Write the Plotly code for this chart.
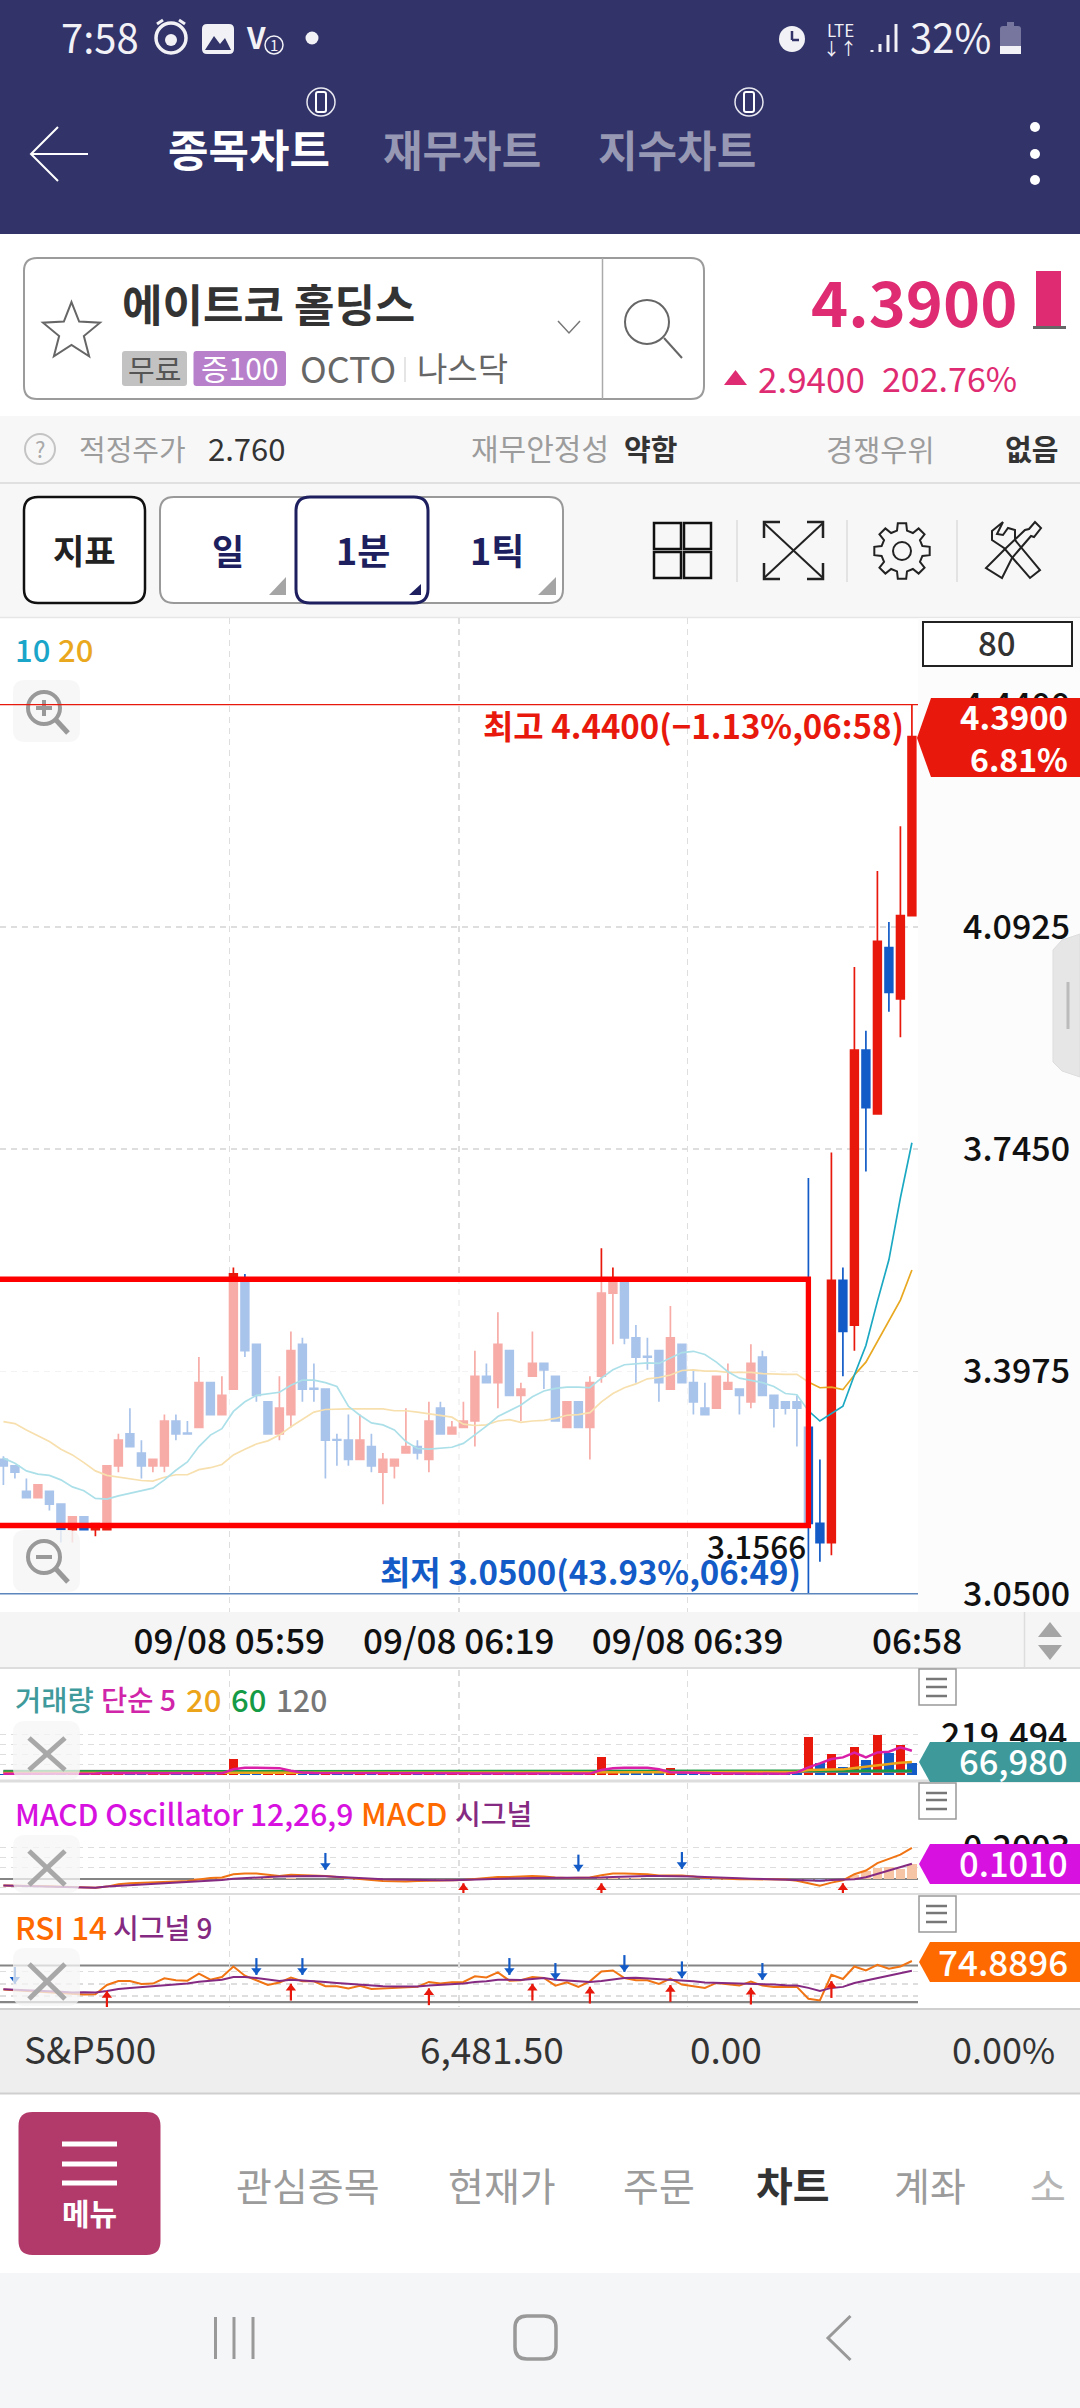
import math
import plotly.graph_objects as go

# ---------- DATA ----------
open_ = [3.26,3.25,3.21,3.20,3.21,3.19,3.15,3.17,3.15,3.15,
         3.25,3.30,3.27,3.25,3.25,3.32,3.301,3.31,3.38,3.33,
         3.37,3.54,3.44,3.35,3.30,3.33,3.44,3.371,3.37,3.291,
         3.29,3.26,3.28,3.24,3.25,3.27,3.28,3.26,3.34,3.30,
         3.31,3.32,3.39,3.38,3.43,3.36,3.39,3.41,3.39,3.31,
         3.35,3.31,3.39,3.52,3.54,3.45,3.421,3.43,3.37,3.44,
         3.38,3.34,3.34,3.37,3.37,3.35,3.42,3.36,3.35,3.35,
         3.31,3.16,3.13,3.54,3.47,3.90,3.80,4.06,3.98,4.11]
high = [3.265,3.25,3.23,3.22,3.21,3.19,3.17,3.17,3.16,3.25,
        3.30,3.34,3.29,3.26,3.33,3.33,3.32,3.42,3.38,3.39,
        3.56,3.55,3.44,3.35,3.39,3.46,3.45,3.41,3.37,3.30,
        3.33,3.33,3.30,3.27,3.26,3.34,3.29,3.35,3.35,3.32,
        3.35,3.43,3.41,3.49,3.43,3.38,3.46,3.41,3.39,3.35,
        3.35,3.39,3.59,3.56,3.54,3.47,3.45,3.43,3.50,3.44,
        3.40,3.38,3.39,3.41,3.37,3.44,3.43,3.36,3.35,3.36,
        3.70,3.26,3.74,3.56,4.03,3.93,4.18,4.10,4.25,4.44]
low = [3.22,3.23,3.20,3.20,3.18,3.13,3.13,3.15,3.14,3.15,
       3.24,3.28,3.23,3.24,3.24,3.29,3.30,3.31,3.33,3.33,
       3.37,3.42,3.35,3.30,3.29,3.31,3.35,3.35,3.23,3.25,
       3.25,3.26,3.24,3.19,3.23,3.27,3.26,3.24,3.30,3.30,
       3.31,3.28,3.38,3.34,3.36,3.32,3.39,3.37,3.32,3.31,
       3.31,3.26,3.38,3.44,3.44,3.38,3.40,3.35,3.37,3.38,
       3.33,3.33,3.34,3.37,3.33,3.34,3.36,3.31,3.33,3.28,
       3.05,3.10,3.11,3.39,3.43,3.71,3.80,3.96,3.92,4.11]
close = [3.25,3.24,3.20,3.22,3.19,3.15,3.17,3.15,3.16,3.25,
         3.29,3.28,3.25,3.26,3.32,3.30,3.30,3.38,3.33,3.36,
         3.55,3.43,3.36,3.30,3.34,3.43,3.37,3.37,3.29,3.29,
         3.26,3.29,3.25,3.26,3.26,3.28,3.27,3.32,3.30,3.31,
         3.32,3.39,3.38,3.44,3.36,3.37,3.41,3.40,3.32,3.35,
         3.31,3.38,3.52,3.54,3.45,3.42,3.42,3.38,3.45,3.38,
         3.35,3.33,3.39,3.38,3.36,3.41,3.36,3.34,3.34,3.34,
         3.16,3.13,3.54,3.46,3.90,3.81,4.07,3.99,4.11,4.39]
ma10 = [3.262,3.254,3.242,3.237,3.235,3.228,3.217,3.211,3.199,3.198,
        3.203,3.207,3.211,3.215,3.228,3.243,3.256,3.280,3.298,3.308,
        3.335,3.350,3.360,3.363,3.365,3.376,3.384,3.384,3.380,3.374,
        3.343,3.329,3.317,3.314,3.306,3.288,3.277,3.276,3.277,3.279,
        3.285,3.298,3.312,3.327,3.336,3.345,3.358,3.367,3.371,3.373,
        3.373,3.372,3.387,3.400,3.408,3.410,3.411,3.410,3.418,3.427,
        3.429,3.424,3.412,3.397,3.387,3.384,3.380,3.374,3.363,3.361,
        3.336,3.320,3.332,3.343,3.392,3.438,3.507,3.572,3.669,3.755]
ma20 = [3.319,3.316,3.306,3.297,3.288,3.276,3.267,3.255,3.242,3.235,
        3.232,3.229,3.227,3.226,3.232,3.236,3.236,3.244,3.247,3.252,
        3.267,3.276,3.284,3.289,3.298,3.311,3.323,3.334,3.338,3.339,
        3.339,3.339,3.339,3.339,3.336,3.336,3.334,3.331,3.329,3.326,
        3.315,3.313,3.314,3.320,3.322,3.318,3.320,3.321,3.324,3.329,
        3.330,3.333,3.350,3.363,3.372,3.378,3.386,3.388,3.392,3.399,
        3.400,3.398,3.398,3.396,3.396,3.396,3.394,3.393,3.393,3.393,
        3.381,3.372,3.373,3.369,3.392,3.412,3.444,3.475,3.509,3.556]
volume = [6000,5000,4000,5000,6000,9000,8000,6000,7000,16000,
          9000,8000,7000,6000,9000,7000,5000,10000,8000,7000,
          87800,12000,10000,9000,10000,11000,9000,8000,10000,8000,
          9000,7000,8000,6000,7000,6000,5000,8000,7000,6000,
          5000,7000,6000,8000,7000,5000,6000,5000,7000,6000,
          5000,7000,97100,12000,10000,9000,8000,9000,35100,10000,
          8000,7000,9000,5000,4000,6000,5000,6000,5000,7000,
          208500,65800,115200,43900,153600,78600,219494,118900,164600,66980]
vol_dir = "bbbrbbrbrrrbbrrbbrbrrbbrrrbbrbbrbrrrbrbrrrbrbrrbbrbrrrbbbbrbbbrrbrbbbbrbrbrbrbrb"
vol_ma5 = [5600,5400,5000,5200,5400,6000,6600,6800,7000,9200,
           9600,9400,8600,7600,7600,7400,7400,7600,7400,7600,
           30000,38000,38000,38000,36000,22000,12000,9000,9000,9000,
           9000,8500,8000,8000,7500,7000,6500,6500,7000,6500,
           6000,6500,6500,6500,6500,6500,6000,6000,6000,6000,
           6000,6000,26000,36000,38000,38000,38000,30000,14000,12000,
           10000,8000,8000,7000,6500,6000,6000,5500,5500,12800,
           40200,62200,86000,95100,120700,95100,122500,126200,150000,131700]
vol_ma20 = [9000,9000,9000,9000,9000,9000,9000,9000,9000,9000,
            9500,9500,9500,9500,9500,9500,9500,9500,9500,9500,
            13000,13000,13000,13000,13000,13000,13000,13000,13000,13000,
            13000,13000,13000,13000,13000,13000,13000,13000,13000,12000,
            9000,9000,9000,9000,9000,9000,9000,9000,9000,9000,
            9000,9000,13000,13000,13000,13000,13000,14000,14000,14000,
            14000,14000,14000,14000,14000,14000,14000,14000,14000,16000,
            25600,25600,27400,29300,36600,43900,53000,60400,65800,69500]
vol_ma60 = [18000,18000,18000,18000,18000,18000,18000,18000,18000,18000,
            18000,18000,18000,18000,18000,18000,18000,18000,18000,18000,
            18000,18000,18000,18000,18000,18000,18000,18000,18000,18000,
            18000,18000,18000,18000,18000,18000,18000,18000,18000,18000,
            18000,18000,18000,18000,18000,18000,18000,18000,18000,18000,
            18000,18000,18000,18000,18000,18000,18000,18000,18000,18000,
            18000,18000,18000,18000,18000,18000,18000,18000,18000,18000,
            18000,18000,18000,18000,19000,20000,21000,21000,22000,22000]
vol_ma120 = [20000,20000,20000,20000,20000,20000,20000,20000,20000,20000,
             20000,20000,20000,20000,20000,20000,20000,20000,20000,20000,
             20000,20000,20000,20000,20000,20000,20000,20000,20000,20000,
             20000,20000,20000,20000,20000,20000,20000,20000,20000,20000,
             20000,20000,20000,20000,20000,20000,20000,20000,20000,20000,
             20000,20000,20000,20000,20000,20000,20000,20000,20000,20000,
             20000,20000,20000,20000,20000,20000,20000,20000,20000,20000,
             20000,20000,20000,19000,18000,17000,16000,16000,16000,16000]
macd = [-.040,-.040,-.042,-.044,-.046,-.048,-.051,-.053,-.055,-.048,
        -.033,-.026,-.024,-.022,-.018,-.015,-.011,-.002,.009,.011,
        .033,.037,.037,.029,.022,.029,.026,.026,.022,.015,
        .009,0,-.004,-.011,-.013,-.015,-.011,-.011,-.009,-.007,
        -.004,.002,.007,.015,.015,.018,.022,
        .018,.011,.009,.009,.011,.026,.037,.037,.037,.033,.024,.024,.024,.018,.009,.007,.002,
        0,0,0,0,-.002,-.009,-.024,-.042,-.022,-.007,.033,.057,.106,.132,.161,.205]
signal = [-.040,-.042,-.044,-.044,-.046,-.048,-.053,-.055,-.055,-.048,
          -.044,-.040,-.037,-.033,-.029,-.024,-.020,-.015,-.011,-.004,
          .004,.009,.011,.015,.018,.020,.022,.022,.020,.015,
          .011,.009,.004,0,-.002,-.004,-.007,-.007,-.007,-.007,
          -.004,-.002,0,.002,.004,.007,.009,
          .009,.009,.009,.009,.009,.011,.015,.018,.020,.022,.022,.022,.022,.018,.015,.011,.009,
          .007,.004,.002,.002,0,-.002,-.004,-.009,-.004,-.004,0,.013,.035,.057,.079,.101]
oscillator = [0,.002,.002,0,0,0,.002,.002,0,0,
              .004,.005,.005,.004,.005,.005,.005,.006,.008,.007,
              .010,.010,.009,.006,.004,.006,.004,.004,.002,0,
              -.002,-.004,-.004,-.005,-.005,-.005,-.004,-.004,-.002,0,
              0,.004,.005,.006,.005,.005,.006,
              .004,.002,0,0,.002,.006,.008,.008,.007,.005,.002,.002,.002,0,-.003,-.004,-.004,
              -.004,-.004,-.002,-.002,-.002,-.004,-.006,-.015,-.006,-.003,.029,.051,.073,.079,.066,.1010]
rsi = [43.7,43.0,41.5,41.2,40.4,39.4,39.0,38.3,38.6,48.7,
       53.1,53.1,49.8,50.2,55.9,53.8,53.4,61.0,54.5,57.4,
       68.9,58.8,53.8,48.7,51.3,56.7,52.7,52.7,47.3,47.3,
       44.8,47.7,44.4,45.1,45.5,46.6,46.6,52.0,50.2,51.6,
       52.0,58.1,57.0,62.4,53.4,53.8,57.4,
       56.3,48.0,51.6,46.6,52.7,63.5,64.6,56.3,53.8,53.8,49.8,55.6,49.1,46.9,45.5,50.9,49.8,
       48.0,52.3,48.0,46.6,46.6,46.6,33.6,31.8,59.9,55.2,68.9,64.6,70.7,66.4,68.9,74.8896]
rsi_signal = [44.1,43.7,43.0,43.0,41.9,41.2,40.4,40.8,40.4,42.2,
              44.4,45.5,46.6,47.3,48.7,49.8,50.2,52.3,53.8,54.5,
              57.4,57.4,56.3,54.5,53.1,54.5,53.8,53.4,52.0,50.9,
              49.8,49.1,48.0,47.3,46.9,46.9,46.9,48.0,48.7,49.5,
              50.2,52.0,52.7,54.5,54.1,54.1,55.2,
              56.3,54.5,53.4,52.7,52.0,53.1,54.5,56.3,56.7,55.9,55.2,54.9,53.8,52.7,51.3,50.9,50.9,
              50.2,50.5,49.8,49.1,48.4,48.0,45.5,42.2,45.5,46.6,50.9,53.4,56.3,58.8,61.0,64.2]
macd_sell_idx = [28,50,59]
macd_sell_val = [.117,.106,.123]
macd_buy_idx = [40,52,73]
macd_buy_val = [-.081,-.081,-.081]
rsi_sell_idx = [1,22,26,44,48,54,59,66]
rsi_sell_val = [59.2,68.9,68.9,68.9,63.5,72.2,65.3,63.5]
rsi_buy_idx = [9,25,37,46,51,58,65,72]
rsi_buy_val = [32.9,40.8,35.8,40.8,37.6,39.4,36.5,43.7]
price_ticks = [3.05,3.3975,3.745,4.0925,4.44]
price_labels = ["3.0500","3.3975","3.7450","4.0925","4.4400"]
time_ticks = [19.64,39.6,59.5,79.45]
time_labels = ["09/08 05:59","09/08 06:19","09/08 06:39","06:58"]
grid_times = [19.64,39.6,59.5]
idx = list(range(80))

# ---------- STYLE / LAYOUT HELPERS ----------
W, H = 1080, 2408
FONT = "Noto Sans CJK KR"
RED, BLUE = "#e8190c", "#135bc7"
GRID = "#dedede"
PLOT_R = 918
def px(x): return x / W
def py(y): return 1 - y / H
def dom(y_top, y_bot): return [1 - y_bot / H, 1 - y_top / H]

shapes, annots = [], []
def T(x, y, s, size, color, anchor="left", bold=False, weight=400):
    annots.append(dict(x=px(x), y=py(y - size*0.05), xref="paper", yref="paper", text=f"<b>{s}</b>" if bold else s,
                       showarrow=False, xanchor=anchor, yanchor="middle", borderpad=0,
                       font=dict(family=FONT, size=size, color=color, weight=700 if bold else weight)))
def path(pts, fill=None, line=None, lw=0, closed=True, layer="above"):
    d = "M " + " L ".join(f"{px(a):.5f},{py(b):.5f}" for a, b in pts) + (" Z" if closed else "")
    shapes.append(dict(type="path", xref="paper", yref="paper", path=d, layer=layer,
                       fillcolor=fill or "rgba(0,0,0,0)", line=dict(color=line or "rgba(0,0,0,0)", width=lw)))
def rect(x0, y0, x1, y1, fill=None, line=None, lw=0, layer="below"):
    shapes.append(dict(type="rect", xref="paper", yref="paper", x0=px(x0), x1=px(x1), y0=py(y0), y1=py(y1), layer=layer,
                       fillcolor=fill or "rgba(0,0,0,0)", line=dict(color=line or "rgba(0,0,0,0)", width=lw)))
def rrect(x0, y0, x1, y1, r, fill=None, line=None, lw=0, layer="above"):
    P = lambda a, b: f"{px(a):.5f},{py(b):.5f}"
    d = (f"M {P(x0+r,y0)} L {P(x1-r,y0)} Q {P(x1,y0)} {P(x1,y0+r)} L {P(x1,y1-r)} Q {P(x1,y1)} {P(x1-r,y1)} "
         f"L {P(x0+r,y1)} Q {P(x0,y1)} {P(x0,y1-r)} L {P(x0,y0+r)} Q {P(x0,y0)} {P(x0+r,y0)} Z")
    shapes.append(dict(type="path", xref="paper", yref="paper", path=d, layer=layer,
                       fillcolor=fill or "rgba(0,0,0,0)", line=dict(color=line or "rgba(0,0,0,0)", width=lw)))
def circle(cx, cy, rx, ry=None, fill=None, line=None, lw=0, layer="above"):
    ry = ry or rx
    shapes.append(dict(type="circle", xref="paper", yref="paper", x0=px(cx-rx), x1=px(cx+rx), y0=py(cy+ry), y1=py(cy-ry),
                       layer=layer, fillcolor=fill or "rgba(0,0,0,0)", line=dict(color=line or "rgba(0,0,0,0)", width=lw)))
def seg(x0, y0, x1, y1, color, lw, layer="above"):
    path([(x0, y0), (x1, y1)], None, color, lw, closed=False, layer=layer)

# ---------- CHROME: backgrounds ----------
NAVY = "#323369"
rect(0, 0, W, 234, NAVY)
rect(0, 416, W, 482, "#f7f7f7")
seg(0, 483, W, 483, "#d6d6d6", 1.5, "below")
rect(0, 484, W, 617, "#f7f7f7")
seg(0, 617.5, W, 617.5, "#e6e6e6", 1.5, "below")
rect(PLOT_R, 618, W, 1612, "#fcfcfc")
rect(0, 1612, W, 1668, "#f5f5f5")
seg(0, 1668, W, 1668, "#dddddd", 2, "below")
seg(1024.5, 1612, 1024.5, 1668, "#dddddd", 1.5, "below")
seg(0, 1781, W, 1781, "#dddddd", 3, "below")
seg(0, 1894, W, 1894, "#dddddd", 2, "below")
rect(0, 2009, W, 2093, "#eeeeee", layer="below")
seg(0, 2009, W, 2009, "#cfcfcf", 2, "below")
seg(0, 2093.5, W, 2093.5, "#cfcfcf", 2, "below")
rect(0, 2273, W, H, "#f5f6f8")

# status bar
T(60, 38, "7:58", 40, "#f1f1f6")
circle(171, 38, 15, fill=None, line="#f1f1f6", lw=3.5)
circle(171, 40, 6, fill="#f1f1f6")
seg(157, 24, 163, 20, "#f1f1f6", 3); seg(179, 20, 185, 24, "#f1f1f6", 3)
rrect(202, 24, 234, 54, 5, "#f1f1f6")
path([(205, 50), (214, 36), (220, 44), (225, 38), (231, 50)], NAVY)
T(245, 38, "V", 30, "#f1f1f6", bold=True)
T(274, 45, "1", 15, "#f1f1f6", "center")
circle(274, 45, 9, line="#f1f1f6", lw=1.5)
circle(312, 38, 6.5, fill="#f1f1f6")
circle(792, 39, 13, fill="#f1f1f6")
seg(792, 31, 792, 40, NAVY, 2.5); seg(792, 40, 799, 40, NAVY, 2.5)
T(840, 30, "LTE", 17, "#f1f1f6", "center")
T(840, 48, "↓↑", 17, "#f1f1f6", "center")
for xb, yb in zip([872, 880, 888, 896], [50, 44, 35, 24]):
    seg(xb, 52, xb, yb, "#f1f1f6", 3)
T(909, 38, "32%", 40, "#f1f1f6")
rrect(1000, 26, 1021, 54, 3, "#76769f")
rect(1007, 22, 1014, 26, "#76769f", layer="above")
rect(1000, 46, 1021, 54, "#f1f1f6", layer="above")

# header
path([(58, 127), (31, 154), (58, 181)], None, "#ffffff", 2, closed=False)
seg(31, 154, 88, 154, "#ffffff", 2)
T(249, 150, "종목차트", 44, "#ffffff", "center", True)
T(462, 150, "재무차트", 43, "#9798b3", "center", True)
T(677, 150, "지수차트", 43, "#9798b3", "center", True)
for cx in (321, 749):
    circle(cx, 102, 14, line="#e8e8f0", lw=1.5)
    rrect(cx-5, 92, cx+5, 112, 2, NAVY, "#ffffff", 2)
for cy in (127, 154, 180):
    circle(1035, cy, 5, fill="#ffffff")

# stock box
rrect(24, 258, 704, 399, 13, "#ffffff", "#9b9b9b", 2)
seg(602.5, 258, 602.5, 399, "#aaaaaa", 1.5)
star = []
for k in range(10):
    r = 30 if k % 2 == 0 else 13
    a = -math.pi/2 + k*math.pi/5
    star.append((71.5 + r*math.cos(a), 332 + r*math.sin(a)))
path(star, None, "#666666", 2)
T(121, 305, "에이트코 홀딩스", 44, "#333333", bold=True)
path([(558, 321), (569, 333), (580, 321)], None, "#777777", 1.5, closed=False)
circle(647, 322, 22, line="#666666", lw=2)
seg(664, 338, 682, 358, "#666666", 2)
rrect(122, 351, 187, 386, 3, "#c2c2c2")
T(154.5, 369, "무료", 29, "#555555", "center")
rrect(193.5, 351, 286, 386, 3, "#b87fcb")
T(240, 369, "증100", 30, "#ffffff", "center")
T(299, 369, "OCTO", 36, "#666666")
seg(405, 357, 405, 382, "#dddddd", 1.5)
T(416, 369, "나스닥", 33, "#666666")
PINK = "#df2b72"
T(1018, 303, "4.3900", 63, PINK, "right", True)
rect(1036, 271, 1061, 326, PINK, layer="above")
rect(1033, 326, 1066, 329, "#666666", layer="above")
path([(724, 385), (735.5, 370), (747, 385)], PINK)
T(757, 379, "2.9400", 35, PINK)
T(1018, 379, "202.76%", 34, PINK, "right")

# info row
circle(40, 449, 15, line="#c4c4c4", lw=2)
T(40, 449, "?", 22, "#aaaaaa", "center")
T(78, 449, "적정주가", 29, "#9c9c9c")
T(207, 449, "2.760", 31, "#333333")
T(470, 449, "재무안정성", 30, "#9c9c9c")
T(623, 449, "약함", 29, "#333333", bold=True)
T(825, 449, "경쟁우위", 29.5, "#9c9c9c")
T(1004, 449, "없음", 29, "#333333", bold=True)

# toolbar
rrect(24, 497, 145, 603, 14, "#ffffff", "#111111", 2.5)
T(84.5, 551, "지표", 34, "#222222", "center", True)
rrect(160, 497, 563, 603, 14, "#ffffff", "#999999", 2)
rrect(296, 497, 428, 603, 14, "#ffffff", "#1d1f5f", 3)
T(228, 551, "일", 35, "#1d1f5f", "center", True)
T(363, 551, "1분", 36, "#1d1f5f", "center", True)
T(497, 551, "1틱", 36, "#1d1f5f", "center", True)
path([(286, 577), (286, 595), (269, 595)], "#a5a5a5")
path([(421, 584), (421, 595), (409, 595)], "#1d1f5f")
path([(556, 577), (556, 595), (538, 595)], "#a5a5a5")
for a, b in ((654, 523), (684, 523), (654, 552), (684, 552)):
    rect(a, b, a+27, b+26, None, "#111111", 2.5, layer="above")
for xd in (737, 847, 957):
    seg(xd, 520, xd, 582, "#dddddd", 1.5)
seg(764, 523, 823, 578, "#222222", 2); seg(823, 523, 764, 578, "#222222", 2)
path([(764, 538), (764, 522), (780, 522)], None, "#222222", 2.5, closed=False)
path([(807, 522), (823, 522), (823, 538)], None, "#222222", 2.5, closed=False)
path([(764, 563), (764, 579), (780, 579)], None, "#222222", 2.5, closed=False)
path([(807, 579), (823, 579), (823, 563)], None, "#222222", 2.5, closed=False)
gear = []
for k in range(8):
    a0 = k*math.pi/4
    for da, r in ((-.24, 21), (-.15, 28), (.15, 28), (.24, 21)):
        gear.append((902 + r*math.cos(a0+da), 551 + r*math.sin(a0+da)))
path(gear, None, "#222222", 2)
circle(902, 551, 9, line="#222222", lw=2)
path([(1003, 522), (992, 531), (992, 540), (1004, 548), (1030, 578), (1040, 570), (1015, 540), (1015, 530), (1008, 528), (1003, 535), (997, 534)], None, "#222222", 2)
path([(1035, 522), (1041, 528), (1034, 537), (1031, 536), (1012, 558), (1002, 578), (986, 568), (1005, 549), (1025, 530), (1029, 529)], None, "#222222", 2)

# chart overlay labels
T(14, 650, "10", 31, "#1aa5c9", weight=500); T(57, 650, "20", 31, "#e9a81e", weight=500)
rect(923, 622, 1072, 666, "#ffffff", "#222222", 2, layer="above")
T(997, 644, "80", 33, "#333333", "center", weight=500)
rrect(13, 680, 80, 742, 12, "rgba(246,246,246,0.9)")
circle(44, 708, 16, line="#999999", lw=4)
seg(36, 708, 52, 708, "#999999", 4); seg(44, 700, 44, 716, "#999999", 4)
seg(56, 720, 68, 733, "#999999", 5)
rrect(13, 1530, 80, 1592, 12, "rgba(246,246,246,0.9)")
circle(44, 1557, 16, line="#999999", lw=4)
seg(36, 1557, 52, 1557, "#999999", 4)
seg(56, 1569, 68, 1582, "#999999", 5)
T(905, 727, "최고 4.4400(−1.13%,06:58)", 33, RED, "right", True)
T(802, 1573, "최저 3.0500(43.93%,06:49)", 33, BLUE, "right", True)
T(807, 1547, "3.1566", 31.5, "#111111", "right", weight=500)
path([(917, 738), (931, 698), (1080, 698), (1080, 777), (931, 777)], RED)
T(1069, 718, "4.3900", 33, "#ffffff", "right", True)
T(1069, 760, "6.81%", 32, "#ffffff", "right", True)
path([(1080, 934), (1062, 940), (1053, 950), (1053, 1062), (1062, 1071), (1080, 1077)], "#e6e6e6", "#dddddd", 1)
seg(1068, 982, 1068, 1029, "#bbbbbb", 3)
path([(1038, 1637), (1050, 1622), (1062, 1637)], "#a5a5a5")
path([(1038, 1645), (1050, 1660), (1062, 1645)], "#a5a5a5")

# indicator legends
T(14, 1700, "거래량", 28.5, "#3f9a9c", weight=500)
T(100, 1700, "단순 5", 28.5, "#d024a9", weight=500)
T(185, 1700, "20", 31, "#eca41a", weight=500); T(230, 1700, "60", 31, "#159a45", weight=500); T(275, 1700, "120", 30, "#777777", weight=500)
T(14, 1814, "MACD Oscillator 12,26,9", 30, "#d712e0", weight=500)
T(360, 1814, "MACD", 31, "#ff6a00", weight=500)
T(454, 1814, "시그널", 28, "#852a82", weight=500)
T(14, 1928, "RSI 14", 31.5, "#ff6a00", weight=500)
T(112, 1928, "시그널 9", 28, "#852a82", weight=500)
for (yb0, yb1, yx0, yx1) in ((1721, 1780, 1738, 1770), (1835, 1893, 1851, 1885), (1948, 2006, 1964, 1999)):
    rrect(13, yb0, 80, yb1, 12, "rgba(246,246,246,0.75)")
    seg(29, yx0, 65, yx1, "#a8a8a8", 5); seg(65, yx0, 29, yx1, "#a8a8a8", 5)
for yt, lines in ((1669, (1679, 1687, 1696)), (1783, (1793, 1800, 1809)), (1896, (1906, 1913, 1922))):
    rect(919, yt, 956, yt+36, "#ffffff", "#999999", 1.5, layer="above")
    for yl in lines:
        seg(926, yl, 947, yl, "#777777", 2.5)
for ytop, ytip, col, label, fs in ((1742, 1762, "#3e9a9a", "66,980", 34.5), (1844, 1864, "#d712e0", "0.1010", 34.5), (1942, 1962, "#ff6a00", "74.8896", 35)):
    path([(919, ytip), (930, ytop), (1080, ytop), (1080, ytop+40), (930, ytop+40)], col)
    T(1069, ytip, label, fs, "#ffffff", "right", weight=500)

# S&P row
T(23, 2050, "S&P500", 37, "#333333")
T(565, 2050, "6,481.50", 37, "#333333", "right")
T(763, 2050, "0.00", 37, "#333333", "right")
T(1056, 2050, "0.00%", 36, "#333333", "right")

# bottom nav
rrect(18.5, 2112, 160.5, 2255, 14, "#b23a6b")
for yl in (2144, 2164, 2183):
    seg(62, yl, 117, yl, "#ffffff", 5)
T(89.5, 2213, "메뉴", 30, "#ffffff", "center", True)
T(235, 2186, "관심종목", 39, "#9b9b9b")
T(447, 2186, "현재가", 39, "#9b9b9b")
T(622, 2186, "주문", 39, "#9b9b9b")
T(755, 2186, "차트", 40, "#333333", bold=True)
T(893, 2186, "계좌", 39, "#9b9b9b")
T(1029, 2186, "소", 39, "#b5b5b5")
for xl in (215.5, 234, 253):
    seg(xl, 2317, xl, 2359, "#999999", 3)
rrect(515, 2316, 556, 2359, 12, None, "#999999", 3.5)
path([(850.5, 2316), (828, 2338), (850.5, 2360)], None, "#999999", 3, closed=False)

# ---------- FIGURE ----------
fig = go.Figure()
XR = [-0.296, 79.53]
fig.add_trace(go.Candlestick(x=idx, open=open_, high=high, low=low, close=close, xaxis="x", yaxis="y", whiskerwidth=0,
                             increasing=dict(line=dict(color=RED, width=1.7), fillcolor=RED),
                             decreasing=dict(line=dict(color=BLUE, width=1.7), fillcolor=BLUE),
                             hoverinfo="skip"))
fig.add_trace(go.Scatter(x=idx, y=ma20, mode="lines", line=dict(color="#e8a821", width=1.7), xaxis="x", yaxis="y", hoverinfo="skip"))
fig.add_trace(go.Scatter(x=idx, y=ma10, mode="lines", line=dict(color="#1ba8c2", width=1.7), xaxis="x", yaxis="y", hoverinfo="skip"))

fig.add_trace(go.Bar(x=idx, y=volume, width=0.8, marker=dict(color=[RED if d == "r" else BLUE for d in vol_dir], line=dict(width=0)),
                     xaxis="x2", yaxis="y2", hoverinfo="skip"))
for series, col, w in ((vol_ma120, "#7a7a7a", 2.5), (vol_ma60, "#159a45", 2.5), (vol_ma20, "#eca51a", 2.5), (vol_ma5, "#d91fa8", 2.5)):
    fig.add_trace(go.Scatter(x=idx, y=series, mode="lines", line=dict(color=col, width=w), xaxis="x2", yaxis="y2", hoverinfo="skip"))

fig.add_trace(go.Bar(x=idx, y=oscillator, width=0.8, marker=dict(color=["#f6c5a6" if v >= 0 else "#a9c9ee" for v in oscillator], line=dict(width=0)),
                     xaxis="x3", yaxis="y3", hoverinfo="skip"))
fig.add_trace(go.Scatter(x=idx, y=macd, mode="lines", line=dict(color="#f07414", width=2), xaxis="x3", yaxis="y3", hoverinfo="skip"))
fig.add_trace(go.Scatter(x=idx, y=signal, mode="lines", line=dict(color="#852a82", width=2), xaxis="x3", yaxis="y3", hoverinfo="skip"))

fig.add_trace(go.Scatter(x=idx, y=rsi, mode="lines", line=dict(color="#f07414", width=2), xaxis="x4", yaxis="y4", hoverinfo="skip"))
fig.add_trace(go.Scatter(x=idx, y=rsi_signal, mode="lines", line=dict(color="#852a82", width=2), xaxis="x4", yaxis="y4", hoverinfo="skip"))

def arrows(xs, ys, up, color, xa, ya, unit):
    head = [y + (4*unit if up else -4*unit) for y in ys]
    fig.add_trace(go.Scatter(x=xs, y=ys, mode="markers", xaxis=xa, yaxis=ya, hoverinfo="skip",
                             marker=dict(symbol="line-ns-open", size=12, line=dict(color=color, width=2.2), color=color)))
    fig.add_trace(go.Scatter(x=xs, y=head, mode="markers", xaxis=xa, yaxis=ya, hoverinfo="skip",
                             marker=dict(symbol="triangle-up" if up else "triangle-down", size=9, color=color, line=dict(width=0))))
MACD_U = 0.0066
RSI_U = 1.081
arrows(macd_sell_idx, macd_sell_val, False, BLUE, "x3", "y3", MACD_U)
arrows(macd_buy_idx, macd_buy_val, True, RED, "x3", "y3", MACD_U)
arrows(rsi_sell_idx, rsi_sell_val, False, BLUE, "x4", "y4", RSI_U)
arrows(rsi_buy_idx, rsi_buy_val, True, RED, "x4", "y4", RSI_U)

# data-anchored overlays
def hline(val, xa, ya, col, w, layer="below"):
    shapes.append(dict(type="line", xref=xa, yref=ya, x0=XR[0], x1=XR[1], y0=val, y1=val, layer=layer, line=dict(color=col, width=w)))
hline(4.44, "x", "y", RED, 1.2, "above")
hline(3.05, "x", "y", "#5d86bd", 1.5, "above")
hline(70, "x4", "y4", "#858585", 2.2)
hline(30, "x4", "y4", "#858585", 2.2)
# highlight box drawn on the chart: red frame with translucent white fill
shapes.append(dict(type="rect", xref="x", yref="y", x0=-6, x1=70, y0=3.1566, y1=3.5416, layer="above",
                   fillcolor="rgba(255,255,255,0.64)", line=dict(color="#ff0000", width=5.3)))

x_common = dict(range=XR, domain=[0, PLOT_R/W], showline=False, zeroline=False, ticks="", fixedrange=True)
grid_common = dict(showgrid=True, gridcolor=GRID, gridwidth=1.5, griddash="6px,5px")
x_sub = dict(x_common, tickmode="array", tickvals=grid_times, showticklabels=False, **grid_common)
y_common = dict(side="right", showline=False, zeroline=False, ticks="", fixedrange=True, tickmode="array", automargin=False, **grid_common)
tick_font = dict(family=FONT, size=34, color="#111111", weight=500)

fig.update_layout(
    width=W, height=H, margin=dict(l=0, r=0, t=0, b=0, pad=0, autoexpand=False), autosize=False,
    paper_bgcolor="#ffffff", plot_bgcolor="rgba(0,0,0,0)", showlegend=False, boxgap=0.33, boxgroupgap=0, bargap=0, barmode="overlay",
    font=dict(family=FONT), shapes=shapes, annotations=annots, hovermode=False, dragmode=False,
    xaxis=dict(x_common, anchor="y", rangeslider=dict(visible=False), showgrid=False, tickmode="array", automargin=False,
               tickvals=time_ticks, ticktext=time_labels, ticklabelstandoff=6,
               tickfont=dict(family=FONT, size=35, color="#111111", weight=500),
               minor=dict(tickmode="array", tickvals=grid_times, showgrid=True, gridcolor=GRID, gridwidth=1.5, griddash="6px,5px", ticks="")),
    yaxis=dict(y_common, anchor="x", domain=dom(618, 1612),
               range=[3.05 - (1612-1593.7)/639.6, 3.05 + (1593.7-618)/639.6],
               tickvals=price_ticks, ticktext=price_labels, ticklabelstandoff=44, tickfont=tick_font),
    xaxis2=dict(x_sub, anchor="y2", automargin=False),
    yaxis2=dict(y_common, anchor="x2", domain=dom(1670, 1780), range=[-29000, 574500],
                tickvals=[219494, 164620, 109747, 54873], ticktext=["219,494", " ", " ", " "],
                ticklabelstandoff=22, tickfont=tick_font),
    xaxis3=dict(x_sub, anchor="y3", automargin=False),
    yaxis3=dict(y_common, anchor="x3", domain=dom(1783, 1893), range=[-0.0897, 0.6288],
                tickvals=[0.2087, 0.143, 0.077, -0.055], ticktext=["0.2003", " ", " ", " "],
                ticklabelstandoff=44, tickfont=tick_font),
    xaxis4=dict(x_sub, anchor="y4", automargin=False),
    yaxis4=dict(y_common, anchor="x4", domain=dom(1896, 2007), range=[24.6, 146.0],
                tickvals=[63.5, 50, 36.5], showticklabels=False),
)
fig.update_yaxes(dict(zeroline=False))
fig.layout.yaxis3.zeroline = True
fig.layout.yaxis3.zerolinecolor = "#858585"
fig.layout.yaxis3.zerolinewidth = 2.2

POST = "document.body.style.margin='0';document.documentElement.style.overflow='hidden';document.body.style.overflow='hidden';"
fig.write_html("out.html", post_script=POST, config=dict(displayModeBar=False, staticPlot=True))
